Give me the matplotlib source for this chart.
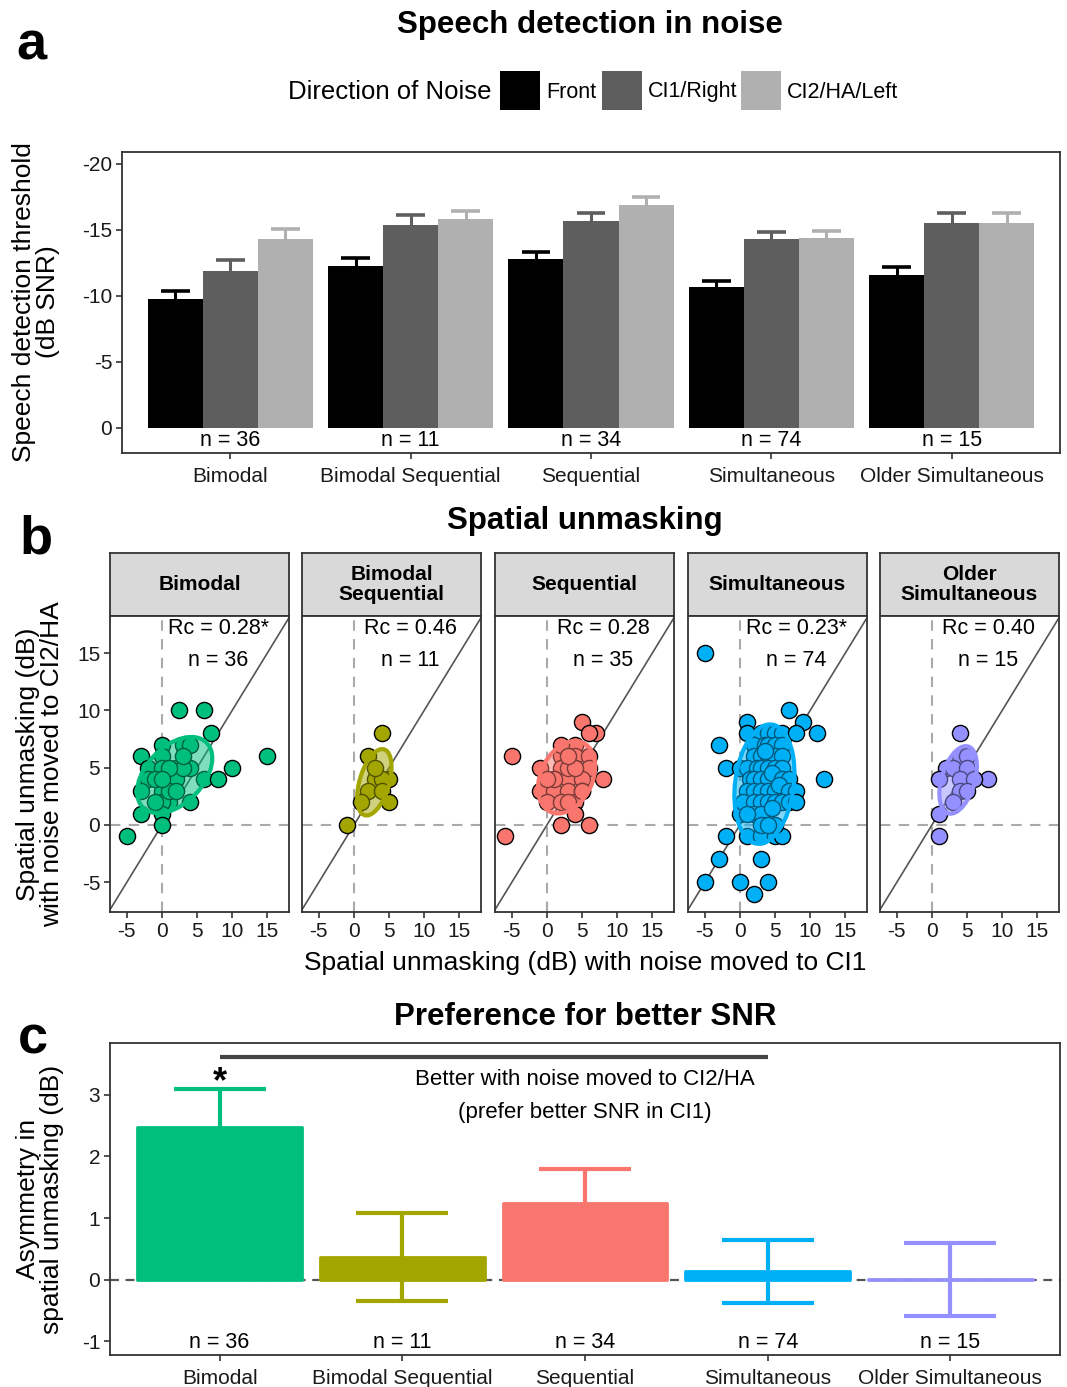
import numpy as np
import matplotlib.pyplot as plt
from matplotlib.patches import Ellipse, Rectangle

plt.rcParams.update({
    "font.family": ["Liberation Sans", "DejaVu Sans"],
    "axes.unicode_minus": False,
    "axes.edgecolor": "#333333",
    "axes.linewidth": 1.3,
})

W, H = 1067, 1387

groups = ["Bimodal", "Bimodal Sequential", "Sequential", "Simultaneous", "Older Simultaneous"]
strip_labels = ["Bimodal", "Bimodal\nSequential", "Sequential", "Simultaneous", "Older\nSimultaneous"]
group_n = [36, 11, 34, 74, 15]
group_colors = ["#00BF7D", "#A3A500", "#F8766D", "#00B0F6", "#9590FF"]

# panel a: speech detection thresholds (dB SNR) and standard errors
noise_dirs = ["Front", "CI1/Right", "CI2/HA/Left"]
noise_colors = ["#000000", "#5e5e5e", "#b0b0b0"]
thr_front = [-9.8, -12.3, -12.8, -10.7, -11.6]
thr_ci1 = [-11.9, -15.4, -15.7, -14.3, -15.5]
thr_ci2 = [-14.3, -15.8, -16.9, -14.4, -15.5]
se_front = [0.6, 0.6, 0.55, 0.4, 0.6]
se_ci1 = [0.8, 0.7, 0.6, 0.55, 0.75]
se_ci2 = [0.75, 0.6, 0.6, 0.5, 0.75]

# panel b: spatial unmasking, noise moved to CI1 (x) vs to CI2/HA (y)
bimodal_x = [2.5, 6, 7, 15, 3, 4, 0, -3, 0, 10, 4, 2, -2, 0, -2, 1, 2, 6, 8, -3,
             0, 1, 0, 4, -3, 0, 0, -5, 1, -1, 2, 3, 1, 0, 3, -1]
bimodal_y = [10, 10, 8, 6, 7, 7, 7, 6, 6, 5, 5, 5, 5, 5, 4, 4, 4, 4, 4, 3,
             3, 2, 2, 2, 1, 1, 0, -1, 3, 4, 3, 5, 5, 4, 6, 2]
bimseq_x = [4, 2, 3, 5, 4, 2, 4, 1, 5, -1, 3]
bimseq_y = [8, 6, 4, 4, 4, 3, 3, 2, 2, 0, 5]
seq_x = [5, 7, 6, -5, 4, 2, 4, 6, -1, 2, 4, 6, 8, 1, 3, 5, -1, 1, 3, 5,
         0, 2, 4, 4, 2, 6, -6, 3, 5, 3, 1, 2, 0, 4, 3]
seq_y = [9, 8, 8, 6, 7, 6, 6, 6, 5, 5, 5, 5, 4, 4, 4, 4, 3, 3, 3, 3,
         2, 2, 2, 1, 0, 0, -1, 5, 3, 2, 4, 7, 4, 5, 6]
sim_x = [-5, 7, 1, 9, 11, -3, -2, 12, 0, -2, 1, 3, 5, 6, 5, -3, 3, -5, 0, 4, 2,
         1, 3, 4, 5, 6, 8,
         2, 3.5, 4, 5, 6,
         2, 3, 4, 5, 6, 3.5,
         0, 1, 2.5, 3, 4, 5, 6,
         1.5, 2, 3, 4, 4.5, 6, 7,
         1, 2, 3, 4, 5, 5.5, 7, 8,
         0.5, 2, 3, 4, 5, 6, 7, 8,
         2, 3, 4.5, 1,
         3, 4]
sim_y = [15, 10, 9, 9, 8, 7, 5, 4, 1, -1, -1, -1, -1, -1, 0, -3, -3, -5, -5, -5, -6,
         8, 8, 8, 8, 8, 8,
         7, 7, 7, 7, 7,
         6, 6, 6, 6, 6, 6.5,
         5, 5, 5, 5, 5, 5, 5,
         4, 4, 4, 4, 4.5, 4, 4,
         3, 3, 3, 3, 3, 3.5, 3, 3,
         2, 2, 2, 2, 2, 2, 2, 2,
         1, 1, 1.5, 1,
         0, 0]
older_x = [4, 2, 1, 8, 4, 5, 3, 5, 4, 6, 4, 3, 1, 1, 5]
older_y = [8, 5, 4, 4, 6, 6, 5, 5, 4, 4, 3, 2, 1, -1, 3]
scatter_x = [bimodal_x, bimseq_x, seq_x, sim_x, older_x]
scatter_y = [bimodal_y, bimseq_y, seq_y, sim_y, older_y]
rc_labels = ["Rc = 0.28*", "Rc = 0.46", "Rc = 0.28", "Rc = 0.23*", "Rc = 0.40"]
scatter_n = [36, 11, 35, 74, 15]

# panel c: asymmetry in spatial unmasking (dB)
asym_mean = [2.47, 0.37, 1.24, 0.14, 0.01]
asym_se = [0.63, 0.71, 0.55, 0.51, 0.59]


def px_axes(fig, left, top, right, bottom):
    return fig.add_axes([left / W, 1 - bottom / H, (right - left) / W, (bottom - top) / H])


def style_ticks(ax):
    ax.tick_params(length=4, width=1.2, color="#333333", labelsize=15,
                   labelcolor="#1a1a1a", pad=3)


def add_cov_ellipse(ax, x, y, scale, color):
    x = np.array(x, dtype=float)
    y = np.array(y, dtype=float)
    vals, vecs = np.linalg.eigh(np.cov(x, y))
    order = vals.argsort()[::-1]
    vals, vecs = vals[order], vecs[:, order]
    angle = np.degrees(np.arctan2(vecs[1, 0], vecs[0, 0]))
    w, h = 2 * scale * np.sqrt(vals)
    centre = (x.mean(), y.mean())
    ax.add_patch(Ellipse(centre, w, h, angle=angle, facecolor=color, alpha=0.5,
                         edgecolor="none", zorder=4))
    ax.add_patch(Ellipse(centre, w, h, angle=angle, facecolor="none",
                         edgecolor=color, lw=3, zorder=4))


fig = plt.figure(figsize=(W / 100, H / 100), dpi=100)

# ---------------- panel a ----------------
fig.text(31 / W, 1 - 45 / H, "a", fontsize=39, fontweight="bold", ha="center", va="center")
fig.text(590 / W, 1 - 25 / H, "Speech detection in noise", fontsize=22.5,
         fontweight="bold", ha="center", va="center")

fig.text(492 / W, 1 - 92 / H, "Direction of Noise", fontsize=18.5, ha="right", va="center")
key_left = [500, 602, 741]
for kl, col, lab in zip(key_left, noise_colors, noise_dirs):
    fig.patches.append(Rectangle((kl / W, 1 - 110 / H), 40 / W, 39 / H,
                                 transform=fig.transFigure, facecolor=col, edgecolor="none"))
    fig.text((kl + 46) / W, 1 - 92 / H, lab, fontsize=15.5, ha="left", va="center")

ax = px_axes(fig, 122, 152, 1060, 453)
xc = np.arange(1, 6)
bw = 0.305
for i, (vals, errs, col) in enumerate(zip([thr_front, thr_ci1, thr_ci2],
                                          [se_front, se_ci1, se_ci2], noise_colors)):
    xpos = xc + (i - 1) * bw
    vals = np.array(vals)
    errs = np.array(errs)
    ax.vlines(xpos, vals, vals - errs, color=col, lw=2.2, zorder=1)
    ax.hlines(vals - errs, xpos - 0.08, xpos + 0.08, color=col, lw=2.6, zorder=1)
    ax.bar(xpos, vals, width=bw, color=col, zorder=2)
for xi, n in zip(xc, group_n):
    ax.text(xi, 0.95, f"n = {n}", fontsize=15.5, ha="center", va="center")
ax.set_xlim(0.4, 5.6)
ax.set_ylim(1.9, -20.9)
ax.set_yticks([0, -5, -10, -15, -20])
ax.set_xticks(xc, groups)
style_ticks(ax)
ax.tick_params(axis="x", pad=6)
fig.text(36 / W, 1 - 302 / H, "Speech detection threshold\n(dB SNR)", fontsize=19,
         rotation=90, ha="center", va="center", linespacing=1.05)

# ---------------- panel b ----------------
fig.text(36 / W, 1 - 540 / H, "b", fontsize=39, fontweight="bold", ha="center", va="center")
fig.text(585 / W, 1 - 521 / H, "Spatial unmasking", fontsize=22.5,
         fontweight="bold", ha="center", va="center")

panel_left = [110, 302, 495, 688, 880]
for k, left in enumerate(panel_left):
    right = left + 179
    sax = px_axes(fig, left, 553, right, 616)
    sax.set_facecolor("#d9d9d9")
    sax.set_xticks([])
    sax.set_yticks([])
    sax.text(0.5, 0.5, strip_labels[k], fontsize=15, fontweight="bold",
             ha="center", va="center", transform=sax.transAxes, linespacing=1.0)

    ax = px_axes(fig, left, 616, right, 912)
    ax.axhline(0, color="#aaaaaa", ls=(0, (5, 4)), lw=1.5, zorder=1)
    ax.axvline(0, color="#aaaaaa", ls=(0, (5, 4)), lw=1.5, zorder=1)
    ax.axline((0, 0), slope=1, color="#555555", lw=1.2, zorder=2)
    ax.scatter(scatter_x[k], scatter_y[k], s=135, c=group_colors[k],
               edgecolors="black", linewidths=1, zorder=3)
    add_cov_ellipse(ax, scatter_x[k], scatter_y[k], 1.35, group_colors[k])
    ax.text(8, 17.2, rc_labels[k], fontsize=15.5, ha="center", va="center")
    ax.text(8, 14.4, f"n = {scatter_n[k]}", fontsize=15.5, ha="center", va="center")
    ax.set_xlim(-7.4, 18.1)
    ax.set_ylim(-7.6, 18.25)
    ax.set_xticks([-5, 0, 5, 10, 15])
    ax.set_yticks([-5, 0, 5, 10, 15])
    style_ticks(ax)
    if k > 0:
        ax.tick_params(axis="y", left=False, labelleft=False)

fig.text(40 / W, 1 - 764 / H, "Spatial unmasking (dB)\nwith noise moved to CI2/HA",
         fontsize=19, rotation=90, ha="center", va="center", linespacing=1.05)
fig.text(585 / W, 1 - 963 / H, "Spatial unmasking (dB) with noise moved to CI1",
         fontsize=19, ha="center", va="center")

# ---------------- panel c ----------------
fig.text(33 / W, 1 - 1040 / H, "c", fontsize=39, fontweight="bold", ha="center", va="center")
fig.text(585 / W, 1 - 1017 / H, "Preference for better SNR", fontsize=22.5,
         fontweight="bold", ha="center", va="center")

ax = px_axes(fig, 110, 1043, 1060, 1355)
ax.axhline(0, color="#555555", ls=(0, (4, 3)), lw=1.6, zorder=0)
ax.bar(xc, asym_mean, width=0.9, color=group_colors, edgecolor=group_colors,
       linewidth=2, joinstyle="round", zorder=2)
for xi, m, se, col in zip(xc, asym_mean, asym_se, group_colors):
    ax.errorbar(xi, m, yerr=se, color=col, lw=3, capsize=33, capthick=3, zorder=3)
ax.plot([1, 4], [3.61, 3.61], color="#444444", lw=3, solid_capstyle="butt", zorder=3)
ax.text(1, 3.2, "*", fontsize=26, fontweight="bold", ha="center", va="center")
ax.text(3, 3.24, "Better with noise moved to CI2/HA", fontsize=16, ha="center", va="center")
ax.text(3, 2.72, "(prefer better SNR in CI1)", fontsize=16, ha="center", va="center")
for xi, n in zip(xc, group_n):
    ax.text(xi, -1.02, f"n = {n}", fontsize=15.5, ha="center", va="center")
ax.set_xlim(0.4, 5.6)
ax.set_ylim(-1.22, 3.84)
ax.set_yticks([-1, 0, 1, 2, 3])
ax.set_xticks(xc, groups)
style_ticks(ax)
ax.tick_params(axis="x", pad=6)
fig.text(40 / W, 1 - 1199 / H, "Asymmetry in\nspatial unmasking (dB)", fontsize=19,
         rotation=90, ha="center", va="center", linespacing=1.05)

fig.savefig("out.png", dpi=100)
